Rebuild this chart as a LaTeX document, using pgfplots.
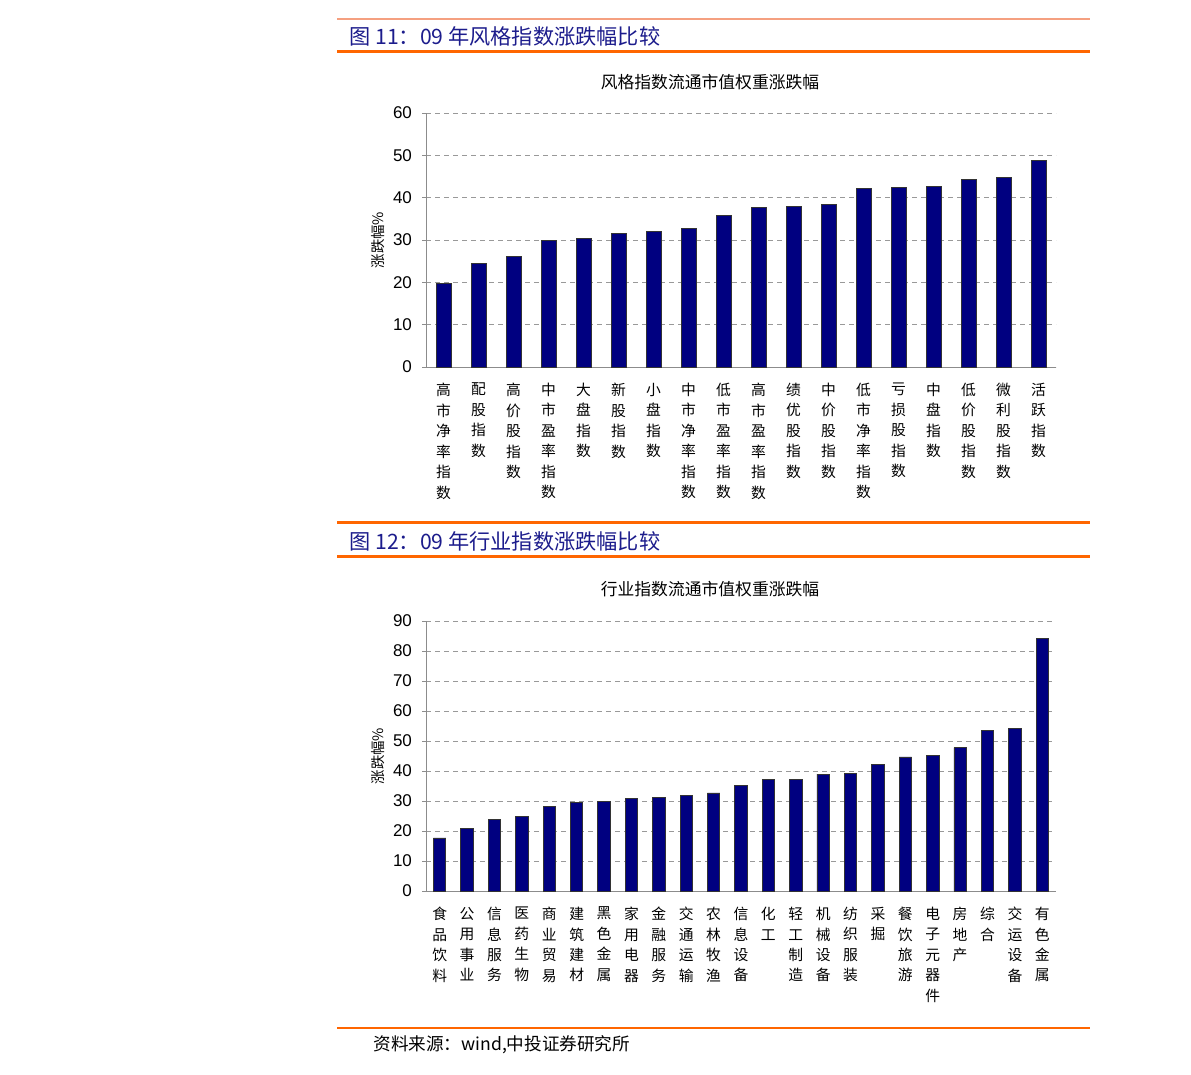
\documentclass[border=0pt]{standalone}
\usepackage{pgfplots}
\pgfplotsset{compat=1.18}
\usepackage{fontspec}
\setmainfont{Liberation Sans}
\newfontfamily\cjk{Noto Sans CJK SC}
\definecolor{barblue}{RGB}{0,0,128}
\definecolor{titleblue}{RGB}{28,28,140}
\definecolor{orangeline}{RGB}{255,102,0}
\definecolor{paleline}{RGB}{245,160,128}
\pgfplotsset{
  mystyle/.style={
    scale only axis,
    anchor=south west,
    width=315pt,
    axis x line*=bottom,
    axis y line*=left,
    axis line style={black!45, line width=0.5pt},
    ymin=0,
    ytick distance=10,
    ymajorgrids,
    major grid style={black!40, dash pattern=on 2.5pt off 2pt, line width=0.4pt},
    tick align=outside,
    major tick length=2pt,
    minor tick length=2.5pt,
    ytick style={black!45},
    xtick style={draw=none},
    minor x tick style={black!35, line width=0.4pt},
    /pgf/number format/assume math mode=true,
    yticklabel style={font=\fontsize{8.5}{10}\selectfont, black, xshift=-1.5pt},
    xticklabel style={font=\cjk\fontsize{7.4}{10.25}\selectfont, align=center, anchor=north, yshift=-2.5pt},
    ybar,
    clip=false,
  }
}
\begin{document}
\begin{tikzpicture}
% page frame
\path (0pt,0pt) rectangle (595.5pt,-537.5pt);
% ---------- header 1
\draw[paleline, line width=0.6pt] (168.5pt,-9.5pt) -- (545pt,-9.5pt);
\node[anchor=west, inner sep=0pt, text=titleblue, font=\cjk\fontsize{10.6}{12}\selectfont] at (174.5pt,-18pt) {图 11：09 年风格指数涨跌幅比较};
\draw[orangeline, line width=1.5pt] (168.5pt,-26pt) -- (545pt,-26pt);
\node[font=\cjk\fontsize{8.4}{10}\selectfont, inner sep=0pt] at (355pt,-41pt) {风格指数流通市值权重涨跌幅};
\node[rotate=90, font=\cjk\fontsize{7.2}{9}\selectfont, inner sep=0pt] at (189pt,-120pt) {涨跌幅\%};
\begin{axis}[mystyle,
  at={(213pt,-183.5pt)},
  height=127pt,
  ymax=60,
  xmin=-0.5, xmax=17.5,
  bar width=7.5pt,
  xtick={0,...,17},
  minor xtick={-0.5,0.5,...,17.5},
  xticklabels={
    {高\\市\\净\\率\\指\\数},
    {配\\股\\指\\数},
    {高\\价\\股\\指\\数},
    {中\\市\\盈\\率\\指\\数},
    {大\\盘\\指\\数},
    {新\\股\\指\\数},
    {小\\盘\\指\\数},
    {中\\市\\净\\率\\指\\数},
    {低\\市\\盈\\率\\指\\数},
    {高\\市\\盈\\率\\指\\数},
    {绩\\优\\股\\指\\数},
    {中\\价\\股\\指\\数},
    {低\\市\\净\\率\\指\\数},
    {亏\\损\\股\\指\\数},
    {中\\盘\\指\\数},
    {低\\价\\股\\指\\数},
    {微\\利\\股\\指\\数},
    {活\\跃\\指\\数}},
]
\addplot[fill=barblue, draw=black!80, line width=0.4pt] coordinates {
  (0,19.8) (1,24.4) (2,26.2) (3,30.0) (4,30.3) (5,31.6) (6,32.1) (7,32.8)
  (8,35.9) (9,37.7) (10,37.9) (11,38.4) (12,42.2) (13,42.5) (14,42.7)
  (15,44.3) (16,44.8) (17,48.8)};
\end{axis}
% ---------- header 2
\draw[orangeline, line width=1.5pt] (168.5pt,-261.5pt) -- (545pt,-261.5pt);
\node[anchor=west, inner sep=0pt, text=titleblue, font=\cjk\fontsize{10.6}{12}\selectfont] at (174.5pt,-270.5pt) {图 12：09 年行业指数涨跌幅比较};
\draw[orangeline, line width=1.5pt] (168.5pt,-278.5pt) -- (545pt,-278.5pt);
\node[font=\cjk\fontsize{8.4}{10}\selectfont, inner sep=0pt] at (355pt,-294.5pt) {行业指数流通市值权重涨跌幅};
\node[rotate=90, font=\cjk\fontsize{7.2}{9}\selectfont, inner sep=0pt] at (189pt,-378pt) {涨跌幅\%};
\begin{axis}[mystyle,
  at={(213pt,-445.5pt)},
  height=135pt,
  ymax=90,
  xmin=-0.5, xmax=22.5,
  bar width=6.2pt,
  xtick={0,...,22},
  minor xtick={-0.5,0.5,...,22.5},
  xticklabels={
    {食\\品\\饮\\料},
    {公\\用\\事\\业},
    {信\\息\\服\\务},
    {医\\药\\生\\物},
    {商\\业\\贸\\易},
    {建\\筑\\建\\材},
    {黑\\色\\金\\属},
    {家\\用\\电\\器},
    {金\\融\\服\\务},
    {交\\通\\运\\输},
    {农\\林\\牧\\渔},
    {信\\息\\设\\备},
    {化\\工},
    {轻\\工\\制\\造},
    {机\\械\\设\\备},
    {纺\\织\\服\\装},
    {采\\掘},
    {餐\\饮\\旅\\游},
    {电\\子\\元\\器\\件},
    {房\\地\\产},
    {综\\合},
    {交\\运\\设\\备},
    {有\\色\\金\\属}},
]
\addplot[fill=barblue, draw=black!80, line width=0.4pt] coordinates {
  (0,17.7) (1,20.9) (2,23.8) (3,24.8) (4,28.3) (5,29.4) (6,29.8) (7,30.9)
  (8,31.2) (9,32.0) (10,32.7) (11,35.1) (12,37.2) (13,37.2) (14,39.0)
  (15,39.3) (16,42.2) (17,44.7) (18,45.3) (19,47.8) (20,53.5) (21,54.1)
  (22,84.1)};
\end{axis}
% ---------- footer
\draw[orangeline, line width=1pt] (168.5pt,-514pt) -- (545pt,-514pt);
\node[anchor=west, inner sep=0pt, font=\cjk\fontsize{8.8}{11}\selectfont] at (186.5pt,-522.5pt) {资料来源：wind,中投证券研究所};
\end{tikzpicture}
\end{document}
